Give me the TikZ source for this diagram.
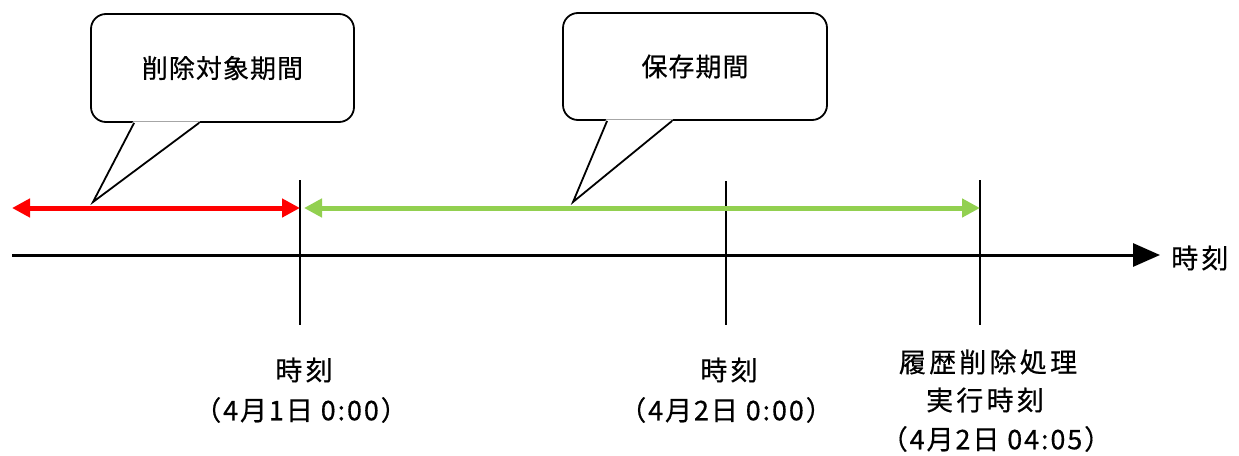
\documentclass[tikz,border=0pt]{standalone}
\usepackage{fontspec}
\setmainfont{Noto Sans CJK JP}[FakeBold=0.5]
\usetikzlibrary{arrows.meta,calc}
\definecolor{arrred}{RGB}{255,0,0}
\definecolor{arrgreen}{RGB}{146,208,80}
\begin{document}
\begin{tikzpicture}[x=1pt,y=-1pt,
  bubble/.style={draw=black, line width=1.8pt, rounded corners=15pt, fill=white, inner sep=0pt},
  tailline/.style={draw=black, line width=1.8pt, line join=miter},
  btxt/.style={font=\fontsize{26}{30}\selectfont\addfontfeatures{LetterSpace=4}},
  lbl/.style={font=\fontsize{27}{32}\selectfont\addfontfeatures{LetterSpace=12}, inner sep=0pt},
  plbl/.style={font=\fontsize{27}{32}\selectfont\addfontfeatures{LetterSpace=7}, inner sep=0pt},
  tickline/.style={draw=black, line width=1.8pt},
  thintick/.style={draw=black, line width=1.1pt},
  redarrow/.style={draw=arrred, line width=5pt, {Triangle[length=18pt,width=18pt]}-{Triangle[length=18pt,width=18pt]}},
  greenarrow/.style={draw=arrgreen, line width=5pt, {Triangle[length=18pt,width=18pt]}-{Triangle[length=18pt,width=18pt]}},
  axisarrow/.style={draw=black, line width=3pt, -{Triangle[length=27pt,width=23pt]}}
]
\useasboundingbox (0,0) rectangle (1239,455);
\fill[white] (0,0) rectangle (1239,455);

% coordinates
\coordinate (axL) at (12,255);
\coordinate (axR) at (1160,255);
\coordinate (t1a) at (300,180);
\coordinate (t1b) at (300,325);
\coordinate (t2a) at (726,181);
\coordinate (t2b) at (726,325);
\coordinate (t3a) at (980,180);
\coordinate (t3b) at (980,325);
\coordinate (rL) at (12,208);
\coordinate (rR) at (300,208);
\coordinate (gL) at (304,208);
\coordinate (gR) at (980,208);
\coordinate (tip1) at (93,202);
\coordinate (tip2) at (573,202);

% axis
\draw[axisarrow] (axL) -- (axR);
\node[lbl, anchor=west] (axlbl) at (1171,258) {時刻};

% ticks
\draw[tickline] (t1a) -- (t1b);
\draw[thintick] (t2a) -- (t2b);
\draw[tickline] (t3a) -- (t3b);

% period arrows
\draw[redarrow] (rL) -- (rR);
\draw[greenarrow] (gL) -- (gR);

% callout 1
\node[bubble, minimum width=263pt, minimum height=108pt] (b1) at (222.5,68) {};
\fill[white] ($(b1.south west)+(43,-1.5)$) -- (tip1) -- ($(b1.south west)+(110,-1.5)$) -- cycle;
\draw[tailline] ($(b1.south west)+(44,0)$) -- (tip1) -- ($(b1.south west)+(109,0)$);
\node[btxt] (b1t) at (b1.center) {削除対象期間};

% callout 2
\node[bubble, minimum width=264pt, minimum height=107pt] (b2) at (695,66.5) {};
\fill[white] ($(b2.south west)+(44,-1.5)$) -- (tip2) -- ($(b2.south west)+(111,-1.5)$) -- cycle;
\draw[tailline] ($(b2.south west)+(45,0)$) -- (tip2) -- ($(b2.south west)+(110,0)$);
\node[btxt] (b2t) at (b2.center) {保存期間};

% labels below
\node[lbl] (l1a) at (304,370) {時刻};
\node[plbl] (l1b) at (301,410) {（4月1日 0:00）};
\node[lbl] (l2a) at (729,370) {時刻};
\node[plbl] (l2b) at (726,410) {（4月2日 0:00）};
\node[lbl] (l3a) at (988,362) {履歴削除処理};
\node[lbl] (l3b) at (985,400) {実行時刻};
\node[plbl] (l3c) at (996,439) {（4月2日 04:05）};
\end{tikzpicture}
\end{document}
